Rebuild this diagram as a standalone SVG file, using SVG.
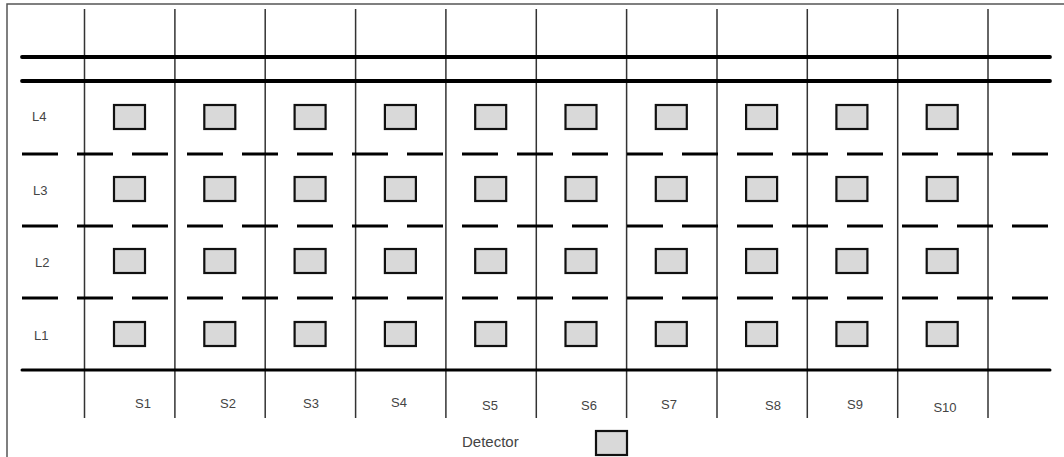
<svg xmlns="http://www.w3.org/2000/svg" xmlns:xlink="http://www.w3.org/1999/xlink" width="1064" height="457" viewBox="0 0 1064 457">
  <style>
    .frame { fill: none; stroke: #555; stroke-width: 1.5; }
    .vline { stroke: #333; stroke-width: 1.5; }
    .thick { stroke: #000; stroke-width: 3.8; stroke-linecap: round; }
    .base { stroke: #000; stroke-width: 3; stroke-linecap: round; }
    .dash { stroke: #000; stroke-width: 3; stroke-dasharray: 36 19; }
    .det { fill: #d9d9d9; stroke: #111; stroke-width: 2.2; }
    .lbl { font-family: "Liberation Sans", Arial, sans-serif; font-size: 13px; fill: #444; }
    .leg { font-family: "Liberation Sans", Arial, sans-serif; font-size: 15px; fill: #444; }
  </style>
  <defs>
    <rect id="detector" class="det" width="31" height="24"/>
  </defs>
  <rect width="1064" height="457" fill="#fff"/>
  <rect class="frame" x="7" y="4" width="1070" height="470"/>

  <g id="connectors">
    <g id="columns">
      <line class="vline" x1="84.5" y1="9" x2="84.5" y2="418"/>
      <line class="vline" x1="174.9" y1="9" x2="174.9" y2="418"/>
      <line class="vline" x1="265.2" y1="9" x2="265.2" y2="418"/>
      <line class="vline" x1="355.6" y1="9" x2="355.6" y2="418"/>
      <line class="vline" x1="445.9" y1="9" x2="445.9" y2="418"/>
      <line class="vline" x1="536.3" y1="9" x2="536.3" y2="418"/>
      <line class="vline" x1="626.6" y1="9" x2="626.6" y2="418"/>
      <line class="vline" x1="717" y1="9" x2="717" y2="418"/>
      <line class="vline" x1="807.3" y1="9" x2="807.3" y2="418"/>
      <line class="vline" x1="897.7" y1="9" x2="897.7" y2="418"/>
      <line class="vline" x1="988" y1="9" x2="988" y2="418"/>
    </g>
    <line class="thick" x1="22" y1="57" x2="1050" y2="57"/>
    <line class="thick" x1="22" y1="81" x2="1050" y2="81"/>
    <line class="dash" x1="22" y1="154" x2="1048" y2="154"/>
    <line class="dash" x1="22" y1="226" x2="1048" y2="226"/>
    <line class="dash" x1="22" y1="298" x2="1048" y2="298"/>
    <line class="base" x1="22" y1="370" x2="1050" y2="370"/>
  </g>

  <g id="layer-labels">
    <text id="L4" class="lbl" x="32" y="121">L4</text>
    <text id="L3" class="lbl" x="33" y="195">L3</text>
    <text id="L2" class="lbl" x="35" y="267">L2</text>
    <text id="L1" class="lbl" x="34" y="340">L1</text>
  </g>

  <g id="detectors">
    <g id="row-L4">
      <use xlink:href="#detector" x="114" y="105"/>
      <use xlink:href="#detector" x="204.3" y="105"/>
      <use xlink:href="#detector" x="294.6" y="105"/>
      <use xlink:href="#detector" x="384.9" y="105"/>
      <use xlink:href="#detector" x="475.2" y="105"/>
      <use xlink:href="#detector" x="565.5" y="105"/>
      <use xlink:href="#detector" x="655.8" y="105"/>
      <use xlink:href="#detector" x="746.1" y="105"/>
      <use xlink:href="#detector" x="836.4" y="105"/>
      <use xlink:href="#detector" x="926.7" y="105"/>
    </g>
    <g id="row-L3">
      <use xlink:href="#detector" x="114" y="177"/>
      <use xlink:href="#detector" x="204.3" y="177"/>
      <use xlink:href="#detector" x="294.6" y="177"/>
      <use xlink:href="#detector" x="384.9" y="177"/>
      <use xlink:href="#detector" x="475.2" y="177"/>
      <use xlink:href="#detector" x="565.5" y="177"/>
      <use xlink:href="#detector" x="655.8" y="177"/>
      <use xlink:href="#detector" x="746.1" y="177"/>
      <use xlink:href="#detector" x="836.4" y="177"/>
      <use xlink:href="#detector" x="926.7" y="177"/>
    </g>
    <g id="row-L2">
      <use xlink:href="#detector" x="114" y="249"/>
      <use xlink:href="#detector" x="204.3" y="249"/>
      <use xlink:href="#detector" x="294.6" y="249"/>
      <use xlink:href="#detector" x="384.9" y="249"/>
      <use xlink:href="#detector" x="475.2" y="249"/>
      <use xlink:href="#detector" x="565.5" y="249"/>
      <use xlink:href="#detector" x="655.8" y="249"/>
      <use xlink:href="#detector" x="746.1" y="249"/>
      <use xlink:href="#detector" x="836.4" y="249"/>
      <use xlink:href="#detector" x="926.7" y="249"/>
    </g>
    <g id="row-L1">
      <use xlink:href="#detector" x="114" y="322"/>
      <use xlink:href="#detector" x="204.3" y="322"/>
      <use xlink:href="#detector" x="294.6" y="322"/>
      <use xlink:href="#detector" x="384.9" y="322"/>
      <use xlink:href="#detector" x="475.2" y="322"/>
      <use xlink:href="#detector" x="565.5" y="322"/>
      <use xlink:href="#detector" x="655.8" y="322"/>
      <use xlink:href="#detector" x="746.1" y="322"/>
      <use xlink:href="#detector" x="836.4" y="322"/>
      <use xlink:href="#detector" x="926.7" y="322"/>
    </g>
  </g>

  <g id="slice-labels">
    <text id="S1" class="lbl" x="143" y="408" text-anchor="middle">S1</text>
    <text id="S2" class="lbl" x="228" y="408" text-anchor="middle">S2</text>
    <text id="S3" class="lbl" x="311" y="408" text-anchor="middle">S3</text>
    <text id="S4" class="lbl" x="399" y="407" text-anchor="middle">S4</text>
    <text id="S5" class="lbl" x="490" y="410" text-anchor="middle">S5</text>
    <text id="S6" class="lbl" x="589" y="410" text-anchor="middle">S6</text>
    <text id="S7" class="lbl" x="669" y="409" text-anchor="middle">S7</text>
    <text id="S8" class="lbl" x="773" y="410" text-anchor="middle">S8</text>
    <text id="S9" class="lbl" x="855" y="409" text-anchor="middle">S9</text>
    <text id="S10" class="lbl" x="945" y="412" text-anchor="middle">S10</text>
  </g>

  <g id="legend">
    <text class="leg" x="462" y="447">Detector</text>
    <rect class="det" x="596" y="431" width="31" height="24"/>
  </g>
</svg>
